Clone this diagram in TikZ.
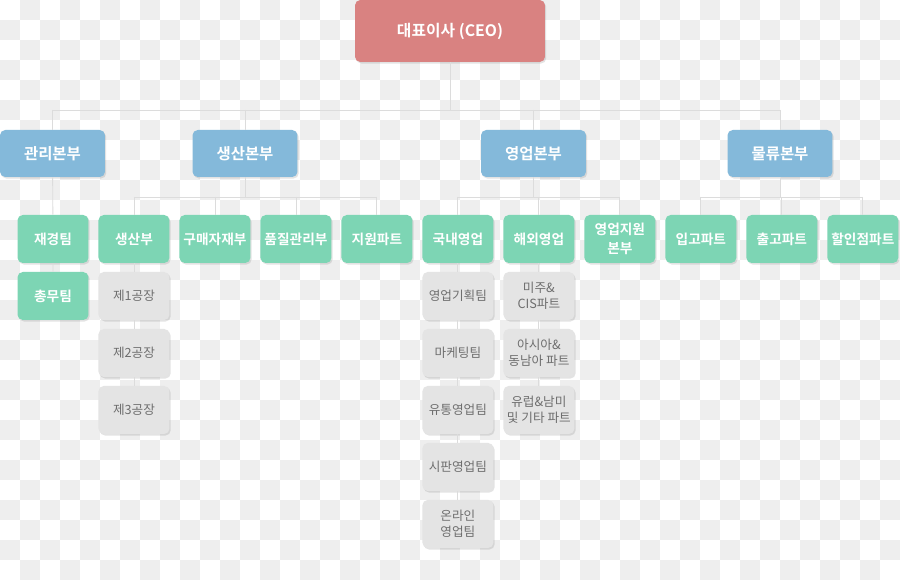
\documentclass[tikz,border=0pt]{standalone}
\usepackage{fontspec}
\newfontfamily\kr{Noto Sans CJK KR}[BoldFont={Noto Sans CJK KR Bold}]
\usetikzlibrary{shadows}

\definecolor{ceored}{HTML}{D98281}
\definecolor{divblue}{HTML}{84B9DA}
\definecolor{teamgreen}{HTML}{7DD5B4}
\definecolor{subgray}{HTML}{E4E4E4}
\definecolor{subtext}{HTML}{6E6E6E}
\definecolor{linegray}{HTML}{DCDCDC}
\definecolor{checker}{HTML}{EEEEEE}

\tikzset{
	box/.style={rounded corners=3pt, align=center, inner sep=1pt,
		minimum width=1.42cm, minimum height=0.96cm,
		drop shadow={shadow xshift=0.7pt, shadow yshift=-0.9pt, opacity=0.22}},
	ceo/.style={box, fill=ceored, text=white, minimum width=3.8cm,
		minimum height=1.24cm, font=\kr\bfseries\fontsize{9}{11}\selectfont},
	div/.style={box, fill=divblue, text=white, minimum width=2.1cm,
		minimum height=0.94cm, font=\kr\bfseries\fontsize{8.8}{11}\selectfont},
	team/.style={box, fill=teamgreen, text=white,
		font=\kr\bfseries\fontsize{7.8}{11}\selectfont},
	sub/.style={box, fill=subgray, text=subtext,
		font=\kr\fontsize{7.2}{8.8}\selectfont},
	link/.style={draw=linegray, line width=0.5pt}
}

\begin{document}
\begin{tikzpicture}[x=0.02cm, y=-0.02cm, node distance=1.62cm]
	\useasboundingbox (0,0) rectangle (900,580);
	% checkered backdrop
	\fill[white] (0,0) rectangle (900,580);
	\foreach \i in {0,...,44}{
		\pgfmathtruncatemacro\jstart{mod(\i+1,2)}
		\pgfmathtruncatemacro\jnext{\jstart+2}
		\foreach \j in {\jstart,\jnext,...,28}
			\fill[checker] (20*\i,20*\j) rectangle ++(20,20);
	}

	\coordinate (lvl1) at (0,110);
	\coordinate (lvl2) at (0,197);

	\node[ceo] (ceo) at (450,31) {대표이사 (CEO)};

	\node[div] (mgmt) at (52.5,153.5) {관리본부};
	\node[div] (prod) at (245,153.5) {생산본부};
	\node[div] (sales) at (533.5,153.5) {영업본부};
	\node[div] (logi) at (780,153.5) {물류본부};

	% green row
	\node[team] (fin) at (53,239) {재경팀};
	\node[team, right of=fin] (mfg) {생산부};
	\node[team, right of=mfg] (buy) {구매자재부};
	\node[team, right of=buy] (qual) {품질관리부};
	\node[team, right of=qual] (supp) {지원파트};
	\node[team, right of=supp] (dom) {국내영업};
	\node[team, right of=dom] (ovs) {해외영업};
	\node[team, right of=ovs] (ssup) {영업지원\\본부};
	\node[team, right of=ssup] (inb) {입고파트};
	\node[team, right of=inb] (outb) {출고파트};
	\node[team, right of=outb] (disc) {할인점파트};

	\begin{scope}[node distance=1.14cm]
		\node[team, below of=fin] (gen) {총무팀};

		\node[sub, below of=mfg] (f1) {제1공장};
		\node[sub, below of=f1] (f2) {제2공장};
		\node[sub, below of=f2] (f3) {제3공장};

		\node[sub, below of=dom] (plan) {영업기획팀};
		\node[sub, below of=plan] (mkt) {마케팅팀};
		\node[sub, below of=mkt] (dist) {유통영업팀};
		\node[sub, below of=dist] (retail) {시판영업팀};
		\node[sub, below of=retail] (online) {온라인\\영업팀};

		\node[sub, below of=ovs] (amer) {미주\&\\CIS파트};
		\node[sub, below of=amer] (asia) {아시아\&\\동남아 파트};
		\node[sub, below of=asia] (euro) {유럽\&남미\\및 기타 파트};
	\end{scope}

	% connectors
	\draw[link] (ceo) -- (ceo |- lvl1);
	\draw[link] (mgmt |- lvl1) -- (logi |- lvl1);
	\foreach \d in {mgmt, prod, sales, logi}
		\draw[link] (\d |- lvl1) -- (\d);

	\draw[link] (mgmt) -- (fin) -- (gen);

	\draw[link] (prod) -- (prod |- lvl2);
	\draw[link] (mfg |- lvl2) -- (supp |- lvl2);
	\foreach \t in {mfg, buy, qual, supp}
		\draw[link] (\t |- lvl2) -- (\t);
	\draw[link] (mfg) -- (f1) -- (f2) -- (f3);

	\draw[link] (sales) -- (sales |- lvl2);
	\draw[link] (dom |- lvl2) -- (ssup |- lvl2);
	\foreach \t in {dom, ovs, ssup}
		\draw[link] (\t |- lvl2) -- (\t);
	\draw[link] (dom) -- (plan) -- (mkt) -- (dist) -- (retail) -- (online);
	\draw[link] (ovs) -- (amer) -- (asia) -- (euro);

	\draw[link] (logi) -- (logi |- lvl2);
	\draw[link] (inb |- lvl2) -- (disc |- lvl2);
	\foreach \t in {inb, outb, disc}
		\draw[link] (\t |- lvl2) -- (\t);
\end{tikzpicture}
\end{document}
